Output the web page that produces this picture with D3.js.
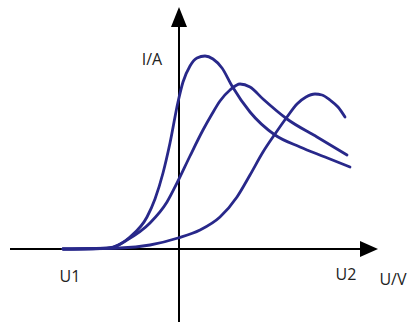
<!DOCTYPE html>
<html>
<head>
<meta charset="utf-8">
<script src="https://cdn.jsdelivr.net/npm/d3@7"></script>
<style>
  body { margin: 0; background: #fff; }
  svg { display: block; }
</style>
</head>
<body>
<svg id="drawing_region"></svg>
<script>
// curve data, U in arbitrary volts, I in arbitrary amps
const curveA_u = [-11.6, -7.9, -6.6, -4.9, -3.2, -2.4, -1.6, -0.9, -0.1, 0.4, 1.1, 1.8, 2.6, 3.4, 4.3, 5.3, 7.1, 9.6, 12.1, 14.6, 17.1];
const curveA_i = [0, 0.05, 0.2, 1.2, 3.2, 5.0, 7.6, 10.6, 14.7, 16.7, 18.3, 19.1, 19.3, 19.0, 18.1, 16.3, 13.7, 11.4, 10.2, 9.2, 8.2];

const curveB_u = [-11.6, -6.9, -5.2, -2.9, -1.2, -0.1, 1.1, 2.4, 3.3, 4.1, 5.1, 6.1, 7.1, 8.4, 10.8, 13.8, 16.8];
const curveB_i = [0, 0.1, 0.9, 2.6, 4.7, 6.8, 9.3, 11.9, 13.5, 14.8, 15.9, 16.5, 16.2, 15.0, 13.0, 11.2, 9.4];

const curveC_u = [-11.6, -5.9, -2.9, -0.1, 2.1, 4.1, 5.8, 7.1, 8.4, 9.6, 10.8, 11.8, 12.7, 13.6, 14.3, 15.1, 15.9, 16.6];
const curveC_i = [0, 0.1, 0.4, 1.1, 1.9, 3.2, 5.2, 7.4, 9.7, 11.5, 13.2, 14.5, 15.2, 15.5, 15.4, 14.9, 14.2, 13.2];

const tickValues = [-10.9, 16.7];
const tickLabels = ["U1", "U2"];
const xTitle = "U/V";
const yTitle = "I/A";

const width = 411, height = 324;

const svg = d3.select('#drawing_region')
    .attr('width', width)
    .attr('height', height);

const x = d3.scaleLinear().domain([-16.9, 19.9]).range([10, 378]);
const y = d3.scaleLinear().domain([-7.3, 24.2]).range([322, 7]);

// axes
svg.append('line')
    .attr('x1', x(-16.9)).attr('x2', x(18.3))
    .attr('y1', y(0)).attr('y2', y(0))
    .attr('stroke', '#000').attr('stroke-width', 2);
svg.append('line')
    .attr('x1', x(0)).attr('x2', x(0))
    .attr('y1', y(-7.3)).attr('y2', y(22.6))
    .attr('stroke', '#000').attr('stroke-width', 2);

// arrow heads
svg.append('path')
    .attr('d', `M${x(19.9)},${y(0)} L${x(18.1)},${y(0) - 8} L${x(18.1)},${y(0) + 8} Z`)
    .attr('fill', '#000');
svg.append('path')
    .attr('d', `M${x(0)},${y(24.2)} L${x(0) - 8},${y(22.2)} L${x(0) + 8},${y(22.2)} Z`)
    .attr('fill', '#000');

const line = d3.line()
    .x(d => x(d[0]))
    .y(d => y(d[1]))
    .curve(d3.curveMonotoneX);

const curves = [
    d3.zip(curveA_u, curveA_i),
    d3.zip(curveB_u, curveB_i),
    d3.zip(curveC_u, curveC_i),
];

svg.selectAll('path.curve')
    .data(curves)
    .enter()
    .append('path')
    .attr('class', 'curve')
    .attr('d', line)
    .attr('fill', 'none')
    .attr('stroke', '#28288a')
    .attr('stroke-width', 2.8)
    .attr('stroke-linecap', 'round');

// labels
const font = "'Open Sans', sans-serif";
svg.selectAll('text.tick')
    .data(tickValues)
    .enter()
    .append('text')
    .attr('class', 'tick')
    .attr('x', d => x(d))
    .attr('y', (d, i) => i === 0 ? 282 : 280)
    .attr('text-anchor', 'middle')
    .attr('font-family', font)
    .attr('font-size', 16)
    .attr('fill', '#222')
    .text((d, i) => tickLabels[i]);

svg.append('text')
    .attr('x', 393).attr('y', 285)
    .attr('text-anchor', 'middle')
    .attr('font-family', font)
    .attr('font-size', 16)
    .attr('fill', '#222')
    .text(xTitle);

svg.append('text')
    .attr('x', 152).attr('y', 65)
    .attr('text-anchor', 'middle')
    .attr('font-family', font)
    .attr('font-size', 16)
    .attr('fill', '#222')
    .text(yTitle);
</script>
</body>
</html>
